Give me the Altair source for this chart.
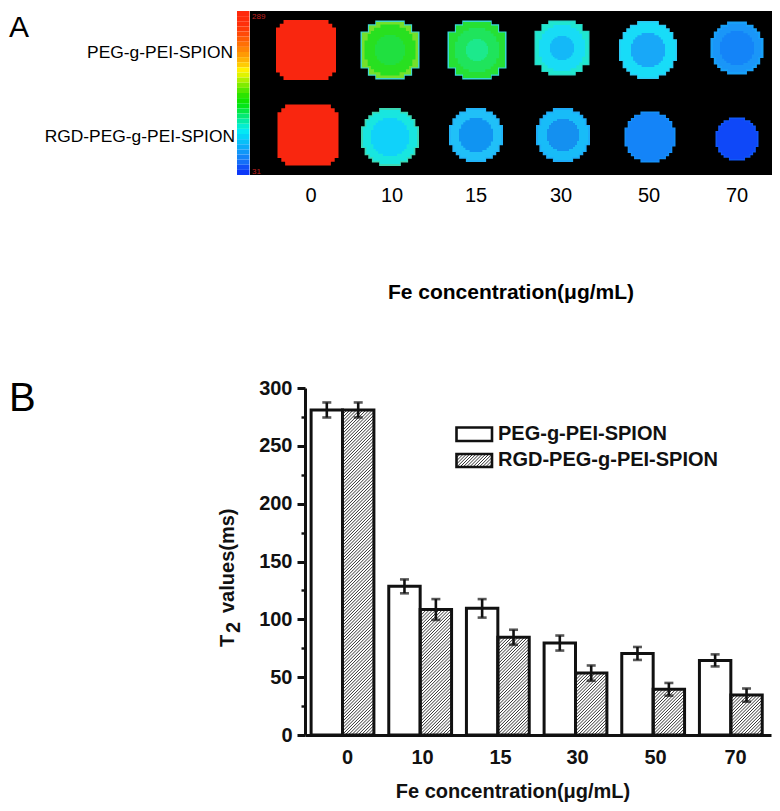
import altair as alt
import pandas as pd

# ---------- data ----------
concentrations = ["0", "10", "15", "30", "50", "70"]
peg_values = [281, 128.5, 109.5, 79.5, 70.5, 64.5]
rgd_values = [281, 108.5, 84.5, 53.5, 39.5, 34.5]
peg_errors = [6.5, 6, 8, 6.5, 5.6, 5.2]
rgd_errors = [6.5, 9, 6.5, 6.6, 5.5, 5.7]

# MRI phantom panel: disc centre x, centre y (reference pixels), then (radius, colour) rings
phantoms = [
    (306, 50, "square", [(30, "#f9260f")]),
    (390, 50, "octagon", [(29.5, "#3fd8d0"), (28, "#74e02c"), (25.5, "#28e020"), (15, "#20e040")]),
    (477, 50, "octagon", [(29.5, "#38d8d8"), (28, "#26e034"), (22, "#1fe45c"), (11, "#1ce98c")]),
    (562, 48, "octagon", [(27.5, "#2ccfc0"), (26.5, "#1fe6d0"), (23, "#18dcf6"), (12, "#14b8f8")]),
    (648, 50, "round", [(29, "#2cc8f4"), (27.5, "#18dcf8"), (17, "#18a8f8")]),
    (737, 48, "round", [(26.5, "#18a0f8"), (24, "#1a96f8"), (17, "#1484f8")]),
    (308, 135, "square", [(30.5, "#f9260f")]),
    (390, 137, "round", [(29, "#3ad8b4"), (27, "#18e6e0"), (19, "#10d2fa")]),
    (476, 135, "round", [(27, "#22b4f8"), (25, "#20c0f8"), (17, "#1094f2")]),
    (563, 135, "round", [(27, "#1eacf8"), (25, "#18bcf8"), (16, "#1490f0")]),
    (650, 137, "round", [(25.5, "#1490f8"), (24, "#1484f8")]),
    (737, 139, "round", [(21.5, "#1058f8"), (20, "#0f48f8")]),
]
colorbar_colors = [
    "#ff2a0c", "#ff2c0a", "#ff300a", "#ff3a08", "#ff4a08", "#ff5c06", "#ff7006", "#ff8406",
    "#ff9a04", "#ffb204", "#ffcc04", "#fff000", "#e0f400", "#b0f000", "#80ec00", "#54e800",
    "#2ce400", "#10e400", "#04e618", "#04e844", "#04ea74", "#04ecA4", "#04eed0", "#04e8f4",
    "#04d4f8", "#08c0f8", "#0cacf8", "#1098f8", "#1484f8", "#1470f8", "#1050f8", "#0c38f8",
]

# ---------- plot-area geometry (reference px minus the 8px page margin) ----------
OX, OY = 8, 8
WIDTH, HEIGHT = 764, 795
PX_PER_X = 466 / 6.0
PX_PER_Y = 347 / 300.0
x_scale = alt.Scale(domain=[0, 6], range=[305 - OX, 771 - OX], nice=False, zero=False)
y_scale = alt.Scale(domain=[0, 300], range=[735 - OY, 388 - OY], nice=False, zero=False)
X = lambda f: alt.X(f, type="quantitative", scale=x_scale, axis=None)
Y = lambda f: alt.Y(f, type="quantitative", scale=y_scale, axis=None)
FONT = "Liberation Sans"
INK = "#111111"


def px2x(px):
    return (px - 305) / PX_PER_X


def px2y(py):
    return (735 - py) / PX_PER_Y


def hatch_lines(x0, x1, v0, v1, step=3.2):
    """Rising diagonal hatch strokes that fill a box, expressed in data units."""
    w = (x1 - x0) * PX_PER_X
    h = (v1 - v0) * PX_PER_Y
    rows = []
    c = step
    while c < w + h:
        # line x - y = w - c, clipped to the box
        a_x, a_y = (w - c, 0.0) if c <= w else (0.0, c - w)
        b_x, b_y = (w, c) if c <= h else (w - (c - h), h)
        rows.append({
            "x": x0 + a_x / PX_PER_X, "x2": x0 + b_x / PX_PER_X,
            "y": v0 + a_y / PX_PER_Y, "y2": v0 + b_y / PX_PER_Y,
        })
        c += step
    return rows


def stair_path(kind, n=16):
    """Blocky outline in the -1..1 symbol box, like a low-resolution image."""
    half = []
    for j in range(n):
        t = abs(-1 + (j + 0.5) * 2 / n)
        if kind == "octagon":
            w = min(1.0, 1.5 - t)
        elif kind == "square":
            w = (1 - t ** 4.5) ** (1 / 4.5)
        else:
            w = (1 - t ** 2.1) ** (1 / 2.1)
        half.append(round(w * n / 2) * 2 / n)
    pts = []
    for j, w in enumerate(half):
        pts += [(w, -1 + j * 2 / n), (w, -1 + (j + 1) * 2 / n)]
    for j, w in reversed(list(enumerate(half))):
        pts += [(-w, -1 + (j + 1) * 2 / n), (-w, -1 + j * 2 / n)]
    return "M" + "L".join(f"{a:.3f},{b:.3f}" for a, b in pts) + "Z"


shapes = {k: stair_path(k) for k in ["square", "octagon", "round"]}


def text(label, x, y, size, bold=False, align="left", color="#000000", angle=None):
    kw = {"angle": angle} if angle is not None else {}
    return alt.Chart(pd.DataFrame({"t": [label]})).mark_text(
        font=FONT, fontSize=size, fontWeight="bold" if bold else "normal",
        align=align, baseline="alphabetic", color=color, **kw
    ).encode(x=alt.value(x - OX), y=alt.value(y - OY), text="t:N")


# ---------- panel A ----------
ax_scale = alt.Scale(domain=[0, 780], range=[-OX, 780 - OX], nice=False, zero=False)
ay_scale = alt.Scale(domain=[0, 811], range=[-OY, 811 - OY], nice=False, zero=False)
AX = lambda f: alt.X(f, type="quantitative", scale=ax_scale, axis=None)
AY = lambda f: alt.Y(f, type="quantitative", scale=ay_scale, axis=None)

black_panel = alt.Chart(pd.DataFrame({"x": [250], "x2": [775], "y": [11], "y2": [175]})).mark_rect(
    color="#000000", clip=True).encode(x=AX("x"), x2="x2:Q", y=AY("y"), y2="y2:Q")

bar_step = (175 - 11) / len(colorbar_colors)
cb = pd.DataFrame({
    "x": [237] * len(colorbar_colors), "x2": [249.5] * len(colorbar_colors),
    "y": [11 + i * bar_step for i in range(len(colorbar_colors))],
    "y2": [11 + (i + 1) * bar_step for i in range(len(colorbar_colors))],
    "c": colorbar_colors,
})
colorbar = alt.Chart(cb).mark_rect().encode(
    x=AX("x"), x2="x2:Q", y=AY("y"), y2="y2:Q", color=alt.Color("c:N", scale=None, legend=None))

ring_rows = []
for cx, cy, shp, rings in phantoms:
    for k, (r, c) in enumerate(rings):
        use = shp if k < 2 or shp == "square" else "round"
        ring_rows.append({"x": cx, "y": cy, "s": (2 * r) ** 2, "c": c, "p": shapes[use]})
rings_chart = alt.Chart(pd.DataFrame(ring_rows)).mark_point(
    filled=True, opacity=1, strokeWidth=0
).encode(
    x=AX("x"), y=AY("y"),
    size=alt.Size("s:Q", scale=None, legend=None),
    color=alt.Color("c:N", scale=None, legend=None),
    shape=alt.Shape("p:N", scale=None, legend=None),
    order=alt.Order("idx:Q"),
).transform_window(idx="row_number()")

a_labels = [
    text("A", 9, 37, 30),
    text("PEG-g-PEI-SPION", 233, 58, 17.4, align="right"),
    text("RGD-PEG-g-PEI-SPION", 235, 142, 17.4, align="right"),
    text("289", 252, 19, 8, color="#c02020"),
    text("31", 252, 174, 8, color="#c02020"),
]
for lab, px in zip(concentrations, [311, 392, 476, 561, 649, 737]):
    a_labels.append(text(lab, px, 202, 20, align="center"))
a_labels.append(text("Fe concentration(μg/mL)", 511, 299, 21, bold=True, align="center"))

# ---------- panel B ----------
CENTER0, HALF = (342.5 - 305) / PX_PER_X, 31.4 / PX_PER_X
rows = []
for i, (p, r, pe, re) in enumerate(zip(peg_values, rgd_values, peg_errors, rgd_errors)):
    mid = CENTER0 + i
    rows.append({"x": mid - HALF, "x2": mid, "v": p, "e": pe, "c": mid - HALF / 2})
    rows.append({"x": mid, "x2": mid + HALF, "v": r, "e": re, "c": mid + HALF / 2})
bars_df = pd.DataFrame(rows)
bars_df["lo"] = bars_df.v - bars_df.e
bars_df["hi"] = bars_df.v + bars_df.e
bars_df["zero"] = 0

hatch_rows = []
for _, b in bars_df.iloc[1::2].iterrows():
    hatch_rows += hatch_lines(b.x, b.x2, 0, b.v)

# legend boxes, through the same scales
leg_x0, leg_x1 = px2x(456.5), px2x(492)
legend_df = pd.DataFrame({
    "x": [leg_x0, leg_x0], "x2": [leg_x1, leg_x1],
    "y": [px2y(441), px2y(467)], "y2": [px2y(427.5), px2y(454)],
})
hatch_rows += hatch_lines(leg_x0, leg_x1, px2y(467), px2y(454))
hatch_df = pd.DataFrame(hatch_rows)

fills = alt.Chart(bars_df).mark_rect(color="#ffffff").encode(
    x=X("x"), x2="x2:Q", y=Y("zero"), y2="v:Q")
hatch = alt.Chart(hatch_df).mark_rule(color="#333333", strokeWidth=1).encode(
    x=X("x"), x2="x2:Q", y=Y("y"), y2="y2:Q")
outlines = alt.Chart(bars_df).mark_rect(
    fillOpacity=0, stroke=INK, strokeWidth=3, fill="#ffffff").encode(
    x=X("x"), x2="x2:Q", y=Y("zero"), y2="v:Q")
stems = alt.Chart(bars_df).mark_rule(color=INK, strokeWidth=2.6).encode(
    x=X("c"), y=Y("lo"), y2="hi:Q")
cap_lo = alt.Chart(bars_df).mark_tick(
    color=INK, orient="horizontal", size=9, thickness=2.6).encode(x=X("c"), y=Y("lo"))
cap_hi = alt.Chart(bars_df).mark_tick(
    color=INK, orient="horizontal", size=9, thickness=2.6).encode(x=X("c"), y=Y("hi"))
legend_boxes = alt.Chart(legend_df).mark_rect(
    fillOpacity=0, stroke=INK, strokeWidth=2.6, fill="#ffffff").encode(
    x=X("x"), x2="x2:Q", y=Y("y"), y2="y2:Q")

tick_positions = [px2x(p) for p in [347, 422, 500, 577, 655, 735]]
label_expr = "[" + ",".join(f"'{c}'" for c in concentrations) + "][floor(datum.value)]"
x_axis = alt.Chart(bars_df).mark_point(opacity=0).encode(
    x=alt.X("c:Q", scale=x_scale, axis=alt.Axis(
        orient="bottom", offset=735 - OY - HEIGHT, values=tick_positions, labelExpr=label_expr,
        title=None, grid=False, ticks=False, domainColor=INK, domainWidth=3,
        labelFont=FONT, labelFontSize=20, labelFontWeight="bold", labelColor="#111111",
        labelPadding=12, labelOverlap=False, labelFlush=False)),
)
y_major = alt.Chart(bars_df).mark_point(opacity=0).encode(
    y=alt.Y("v:Q", scale=y_scale, axis=alt.Axis(
        orient="left", offset=-(305 - OX), values=[0, 50, 100, 150, 200, 250, 300],
        title=None, grid=False, domainColor=INK, domainWidth=3,
        tickColor=INK, tickWidth=3, tickSize=8, labelFont=FONT, labelFontSize=20,
        labelFontWeight="bold", labelColor="#111111", labelPadding=5)),
)
y_minor = alt.Chart(bars_df).mark_point(opacity=0).encode(
    y=alt.Y("e:Q", scale=y_scale, axis=alt.Axis(
        orient="left", offset=-(305 - OX), values=[25, 75, 125, 175, 225, 275],
        title=None, grid=False, domain=False, labels=False,
        tickColor=INK, tickWidth=2.4, tickSize=4)),
)

b_labels = [
    text("B", 9, 411, 40),
    text("PEG-g-PEI-SPION", 498, 440, 20, bold=True, color="#111111"),
    text("RGD-PEG-g-PEI-SPION", 498, 466, 20, bold=True, color="#111111"),
    text("Fe concentration(μg/mL)", 513, 798, 20, bold=True, align="center", color="#111111"),
    text("T", 234, 647, 20, bold=True, color="#111111", angle=270),
    text("2", 240, 633, 20, bold=True, color="#111111", angle=270),
    text("values(ms)", 234, 613, 20, bold=True, color="#111111", angle=270),
]

chart = alt.layer(
    black_panel, colorbar, rings_chart, *a_labels,
    fills, hatch, outlines, stems, cap_lo, cap_hi, legend_boxes,
    x_axis, y_major, y_minor, *b_labels,
).resolve_scale(x="independent", y="independent", size="independent",
                color="independent", shape="independent").properties(
    width=WIDTH, height=HEIGHT, autosize=alt.AutoSizeParams(type="none"), padding=0,
    background="#ffffff",
).configure_view(stroke=None)

chart.save("out.html", embed_options={"renderer": "svg", "actions": False})
